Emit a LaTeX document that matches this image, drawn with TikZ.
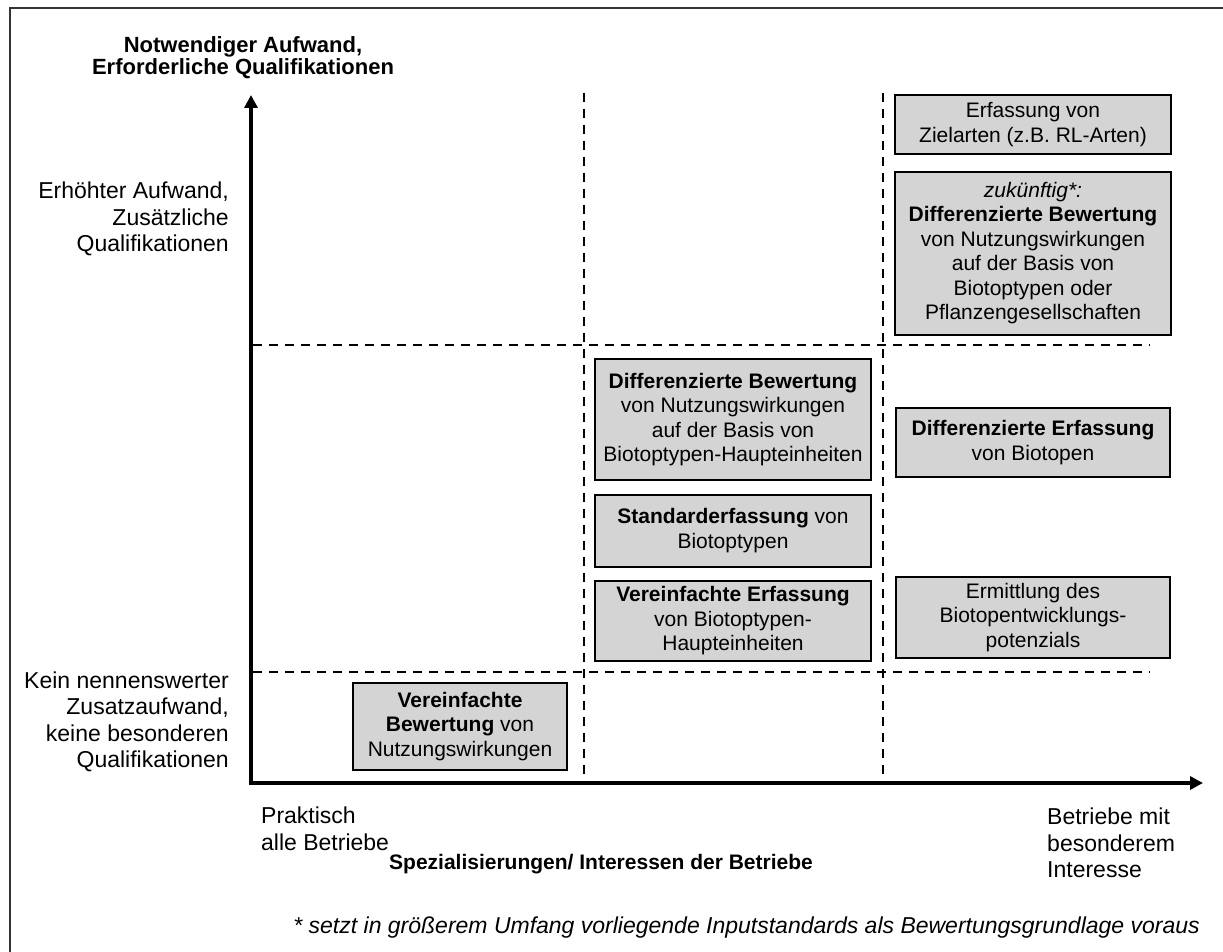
\documentclass[tikz,border=0pt]{standalone}
\usepackage{fontspec}
\setmainfont{Liberation Sans}
\usetikzlibrary{arrows.meta,positioning}
\begin{document}
\begin{tikzpicture}[
  x=1pt,y=-1pt,
  cell/.style={draw=black,line width=1.8pt,fill=black!17,minimum width=276pt,
    inner sep=2pt,align=center,font=\fontsize{21}{24.5}\selectfont},
  sepline/.style={dash pattern=on 9pt off 7pt,line width=1.3pt},
  axisline/.style={line width=4pt,
    arrows={Triangle[length=13pt,width=13pt]-Triangle[length=13pt,width=13pt]}},
  lbl/.style={font=\fontsize{23}{26.5}\selectfont,inner sep=0pt}
]
\useasboundingbox (0,0) rectangle (1223,952);
\clip (0,0) rectangle (1223,952);
\draw[line width=1.5pt,draw=black!80] (10,8) rectangle (1240,970);
% quadrant lines
\draw[sepline] (253,345) -- (1150,345);
\draw[sepline] (253,672) -- (1150,672);
\draw[sepline] (584,93) -- (584,781);
\draw[sepline] (883,93) -- (883,781);
% axes
\coordinate (origin) at (251,783);
\coordinate (ytip) at (251,95);
\coordinate (xtip) at (1203,783);
\draw[axisline] (ytip) -- (origin) -- (xtip);
% axis texts
\node[font=\bfseries\fontsize{22}{22}\selectfont,align=center] (ytitle) at (243,58)
  {Notwendiger Aufwand,\\Erforderliche Qualifikationen};
\node[lbl,align=right,anchor=east] (high) at (229,219)
  {Erhöhter Aufwand,\\Zusätzliche\\Qualifikationen};
\node[lbl,align=right,anchor=east] (low) at (229,722)
  {Kein nennenswerter\\Zusatzaufwand,\\keine besonderen\\Qualifikationen};
\node[lbl,align=left,anchor=west] (few) at (261,829) {Praktisch\\alle Betriebe};
\node[lbl,align=left,anchor=west] (many) at (1047,843) {Betriebe mit\\besonderem\\Interesse};
\node[font=\bfseries\fontsize{21}{25}\selectfont] (xtitle) at (601,864)
  {Spezialisierungen/ Interessen der Betriebe};
\node[font=\itshape\fontsize{23}{27}\selectfont,anchor=base east,inner sep=0pt] (note) at (1200,933)
  {* setzt in größerem Umfang vorliegende Inputstandards als Bewertungsgrundlage voraus};
% boxes
\node[cell,minimum height=59pt] (zielarten) at (1033,124.5)
  {Erfassung von\\Zielarten (z.B. RL-Arten)};
\node[cell,minimum height=163pt,below=16pt of zielarten] (future)
  {\textit{zukünftig*:}\\\textbf{Differenzierte Bewertung}\\von Nutzungswirkungen\\auf der Basis von\\Biotoptypen oder\\Pflanzengesellschaften};
\node[cell,minimum height=121pt] (diffbew) at (733,419.5)
  {\textbf{Differenzierte Bewertung}\\von Nutzungswirkungen\\auf der Basis von\\Biotoptypen-Haupteinheiten};
\node[cell,minimum height=72pt,below=13pt of diffbew] (standard)
  {\textbf{Standarderfassung} von\\Biotoptypen};
\node[cell,minimum height=80pt,below=12pt of standard] (einfach)
  {\textbf{Vereinfachte Erfassung}\\von Biotoptypen-\\Haupteinheiten};
\node[cell,minimum width=274pt,minimum height=69pt] (differf) at (1033,442.5)
  {\textbf{Differenzierte Erfassung}\\von Biotopen};
\node[cell,minimum width=274pt,minimum height=81pt] (potenzial) at (1033,617.5)
  {Ermittlung des\\Biotopentwicklungs-\\potenzials};
\node[cell,minimum width=214pt,minimum height=87pt] (einfbew) at (460,726.5)
  {\textbf{Vereinfachte}\\\textbf{Bewertung} von\\Nutzungswirkungen};
\end{tikzpicture}
\end{document}
